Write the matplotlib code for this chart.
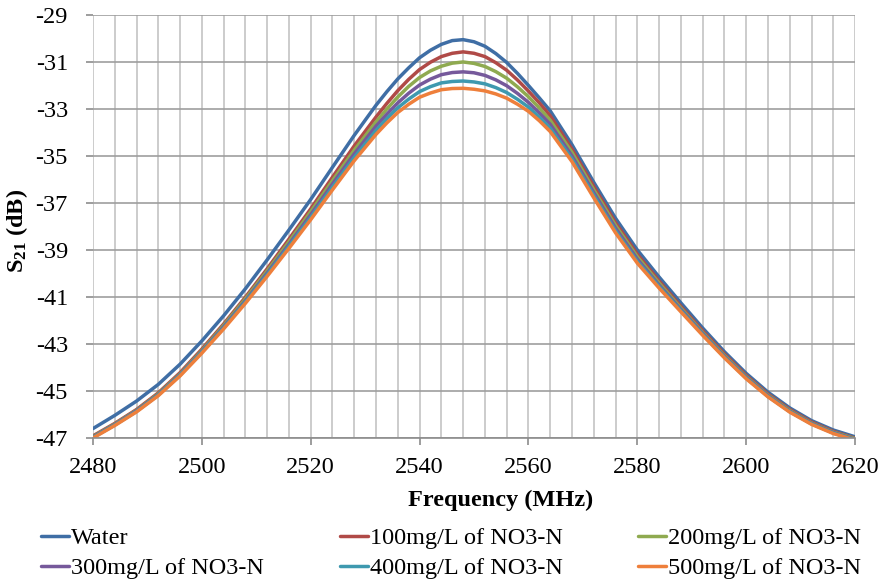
import matplotlib
matplotlib.use("Agg")
import matplotlib.pyplot as plt
from matplotlib.ticker import MultipleLocator

plt.rcParams['font.family'] = ['Liberation Serif', 'DejaVu Serif']
plt.rcParams['mathtext.fontset'] = 'custom'
plt.rcParams['mathtext.rm'] = 'Liberation Serif'
plt.rcParams['mathtext.bf'] = 'Liberation Serif:bold'
plt.rcParams['axes.unicode_minus'] = False

# frequency points (MHz), denser around the resonance peak
freq = [2480, 2484, 2488, 2492, 2496, 2500, 2504, 2508, 2512, 2516, 2520, 2524, 2528, 2532,
        2534, 2536, 2538, 2540, 2542, 2544, 2546, 2548, 2550, 2552, 2554, 2556, 2558, 2560, 2562, 2564,
        2568, 2572, 2576, 2580, 2584, 2588, 2592, 2596, 2600, 2604, 2608, 2612, 2616, 2620]

# S21 (dB)
water = [-46.60, -46.04, -45.43, -44.72, -43.86, -42.87, -41.80, -40.65, -39.42, -38.15, -36.85, -35.48, -34.12, -32.84,
         -32.26, -31.72, -31.25, -30.82, -30.50, -30.25, -30.09, -30.05, -30.14, -30.33, -30.64, -31.02, -31.49, -32.00, -32.53, -33.08,
         -34.52, -36.12, -37.65, -39.00, -40.15, -41.25, -42.32, -43.33, -44.25, -45.05, -45.72, -46.26, -46.66, -46.95]
no3_100 = [-46.91, -46.38, -45.79, -45.08, -44.22, -43.22, -42.15, -41.01, -39.80, -38.54, -37.25, -35.90, -34.57, -33.34,
           -32.76, -32.22, -31.74, -31.32, -31.01, -30.77, -30.63, -30.57, -30.63, -30.77, -31.03, -31.35, -31.77, -32.24, -32.74, -33.29,
           -34.71, -36.30, -37.84, -39.18, -40.32, -41.40, -42.44, -43.43, -44.34, -45.13, -45.79, -46.32, -46.72, -47.01]
no3_200 = [-46.94, -46.41, -45.82, -45.12, -44.27, -43.28, -42.21, -41.08, -39.89, -38.65, -37.37, -36.05, -34.75, -33.55,
           -33.00, -32.49, -32.04, -31.66, -31.38, -31.18, -31.05, -31.00, -31.06, -31.19, -31.41, -31.69, -32.06, -32.48, -32.96, -33.48,
           -34.85, -36.44, -37.96, -39.29, -40.41, -41.47, -42.51, -43.49, -44.39, -45.17, -45.83, -46.36, -46.75, -47.03]
no3_300 = [-46.96, -46.43, -45.84, -45.15, -44.30, -43.32, -42.27, -41.16, -39.98, -38.76, -37.50, -36.19, -34.91, -33.73,
           -33.22, -32.74, -32.33, -31.98, -31.73, -31.54, -31.45, -31.42, -31.46, -31.57, -31.76, -32.01, -32.34, -32.72, -33.17, -33.65,
           -35.00, -36.56, -38.07, -39.39, -40.49, -41.53, -42.55, -43.53, -44.42, -45.20, -45.86, -46.38, -46.77, -47.06]
no3_400 = [-46.98, -46.45, -45.87, -45.17, -44.33, -43.35, -42.32, -41.21, -40.05, -38.84, -37.61, -36.32, -35.06, -33.91,
           -33.41, -32.95, -32.58, -32.26, -32.05, -31.89, -31.83, -31.81, -31.85, -31.93, -32.09, -32.30, -32.59, -32.92, -33.35, -33.82,
           -35.12, -36.67, -38.18, -39.48, -40.55, -41.58, -42.59, -43.56, -44.45, -45.23, -45.88, -46.40, -46.79, -47.07]
no3_500 = [-47.00, -46.47, -45.89, -45.20, -44.36, -43.39, -42.36, -41.27, -40.12, -38.93, -37.71, -36.44, -35.20, -34.08,
           -33.59, -33.15, -32.80, -32.50, -32.32, -32.18, -32.13, -32.12, -32.16, -32.23, -32.36, -32.54, -32.80, -33.10, -33.50, -33.96,
           -35.24, -36.78, -38.27, -39.56, -40.62, -41.63, -42.63, -43.59, -44.48, -45.25, -45.90, -46.42, -46.81, -47.09]

labels = ['Water', '100mg/L of NO3-N', '200mg/L of NO3-N',
          '300mg/L of NO3-N', '400mg/L of NO3-N', '500mg/L of NO3-N']
colors = ['#3F6EA5', '#B04A47', '#8FAA50', '#76599B', '#3E99AF', '#EE7F3B']
series = [water, no3_100, no3_200, no3_300, no3_400, no3_500]
yticks = [-47, -45, -43, -41, -39, -37, -35, -33, -31, -29]

fig = plt.figure(figsize=(8.87, 5.85), dpi=100)
ax = fig.add_axes([0.1048, 0.2513, 0.8592, 0.7231])

lines = []
for s, c, lab in zip(series, colors, labels):
    ln, = ax.plot(freq, s, color=c, lw=2.5, label=lab,
                  solid_capstyle='round', solid_joinstyle='round')
    lines.append(ln)

ax.set_xlim(2480, 2620)
ax.set_ylim(-47, -29)
ax.xaxis.set_major_locator(MultipleLocator(20))
ax.xaxis.set_minor_locator(MultipleLocator(4))
ax.set_yticks(yticks)

ax.grid(which='major', axis='y', color='#9E9E9E', lw=1.2)
ax.grid(which='both', axis='x', color='#C8C8C8', lw=1.3)
ax.set_axisbelow(True)

for sp in ['top', 'right', 'left']:
    ax.spines[sp].set_visible(False)
ax.spines['bottom'].set_color('#8C8C8C')
ax.spines['bottom'].set_linewidth(1.2)

ax.tick_params(axis='both', which='major', labelsize=17.5, colors='#8C8C8C',
               labelcolor='black', length=5, width=1.2)
ax.tick_params(axis='x', which='major', pad=8.5)
ax.tick_params(axis='y', which='major', pad=13)
ax.tick_params(axis='x', which='minor', length=0)

ax.set_xlabel('Frequency (MHz)', fontsize=17.5, fontweight='bold')
ax.xaxis.set_label_coords(0.535, -0.123)
ax.set_ylabel(r'$\mathbf{S_{21}}$ (dB)', fontsize=17.5, fontweight='bold')
ax.yaxis.set_label_coords(-0.083, 0.49)

# legend laid out in three columns, two rows
cols = [(0, 3), (1, 4), (2, 5)]
xs = [0.046, 0.383, 0.719]
for (a, b), x0 in zip(cols, xs):
    fig.legend([lines[a], lines[b]], [labels[a], labels[b]],
               loc='upper left', bbox_to_anchor=(x0, 0.099), frameon=False,
               fontsize=17.5, handlelength=1.15, handletextpad=0.1,
               borderpad=0, borderaxespad=0, labelspacing=0.33)

fig.savefig('out.png', dpi=100)
